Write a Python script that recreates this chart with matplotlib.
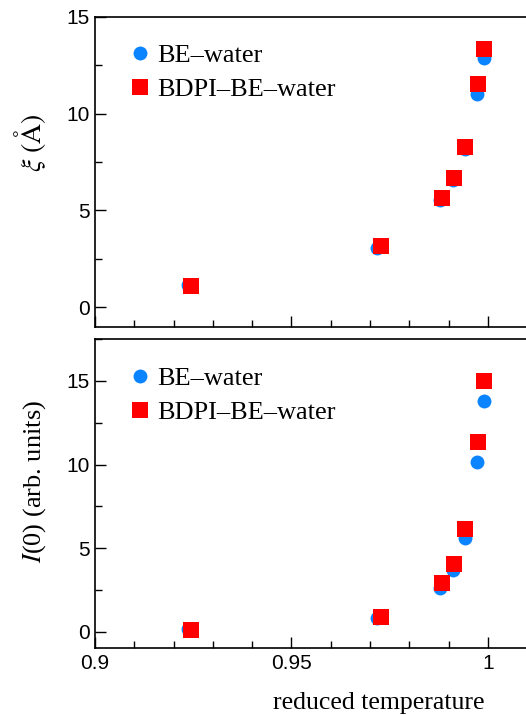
import numpy as np
import matplotlib
matplotlib.use("Agg")
import matplotlib.pyplot as plt
from matplotlib.ticker import MultipleLocator, FixedLocator, FixedFormatter

plt.rcParams['mathtext.fontset'] = 'stix'

# datos
t_be = [0.9237, 0.9718, 0.9879, 0.9912, 0.9942, 0.9973, 0.9990]
t_bdpi = [0.9244, 0.9728, 0.9883, 0.9914, 0.9942, 0.9975, 0.9990]

xi_be = [1.15, 3.05, 5.53, 6.57, 8.20, 11.00, 12.86]
xi_bdpi = [1.10, 3.16, 5.65, 6.69, 8.29, 11.55, 13.35]

i0_be = [0.20, 0.82, 2.63, 3.67, 5.64, 10.14, 13.81]
i0_bdpi = [0.12, 0.92, 2.91, 4.07, 6.14, 11.34, 15.02]

labels = ['BE\u2013water', 'BDPI\u2013BE\u2013water']
xticks = [0.9, 0.95, 1.0]
xtick_labels = ['0.9', '0.95', '1']
azul = '#0a84ff'
rojo = '#ff0000'

serif = 'Liberation Serif'
sans = 'Liberation Sans'

fig = plt.figure(figsize=(5.26, 7.15), dpi=100)
ax1 = fig.add_axes([95/526, 1-327/715, 1-95/526, 310/715])
ax2 = fig.add_axes([95/526, 1-648/715, 1-95/526, 309/715])

datos = [(ax1, xi_be, xi_bdpi, (-1.03, 15.0), 0.913),
         (ax2, i0_be, i0_bdpi, (-0.96, 17.5), 0.91)]

for ax, y_be, y_bdpi, lim, ley_y in datos:
    ax.plot(t_be, y_be, 'o', color=azul, markersize=10, markeredgewidth=0, label=labels[0])
    ax.plot(t_bdpi, y_bdpi, 's', color=rojo, markersize=11.5, markeredgewidth=0, label=labels[1])
    ax.set_xlim(0.9, 1.00967)
    ax.set_ylim(*lim)
    ax.spines['right'].set_visible(False)
    for s in ['top', 'left', 'bottom']:
        ax.spines[s].set_linewidth(1.2)
    ax.xaxis.set_major_locator(FixedLocator(xticks))
    ax.xaxis.set_major_formatter(FixedFormatter(xtick_labels))
    ax.xaxis.set_minor_locator(MultipleLocator(0.01))
    ax.yaxis.set_major_locator(MultipleLocator(5))
    ax.yaxis.set_minor_locator(MultipleLocator(2.5))
    ax.tick_params(which='both', direction='in', top=False, right=False, width=1.0)
    ax.tick_params(which='major', length=8, labelsize=15, pad=4)
    ax.tick_params(which='minor', length=5)
    for lab in ax.get_xticklabels() + ax.get_yticklabels():
        lab.set_fontfamily(sans)
    ax.legend(loc='upper left', bbox_to_anchor=((129.5-95)/431, ley_y), frameon=False,
              prop={'family': serif, 'size': 19}, handletextpad=0.25,
              labelspacing=0.38, borderaxespad=0, borderpad=0, handlelength=0.8)

ax1.tick_params(labelbottom=False)
ax1.set_ylabel(r'$\xi\ (\mathrm{\AA})$', fontsize=20)
ax1.yaxis.set_label_coords(-0.109, 0.594)
ax2.set_ylabel(r'$I$(0) (arb. units)', fontsize=19, fontfamily=serif)
ax2.yaxis.set_label_coords(-0.11, 0.54)

fig.text(379/526, 1-703/715, 'reduced temperature', ha='center', va='center',
         fontsize=18.5, fontfamily=serif)

fig.savefig('out.png', dpi=100)
